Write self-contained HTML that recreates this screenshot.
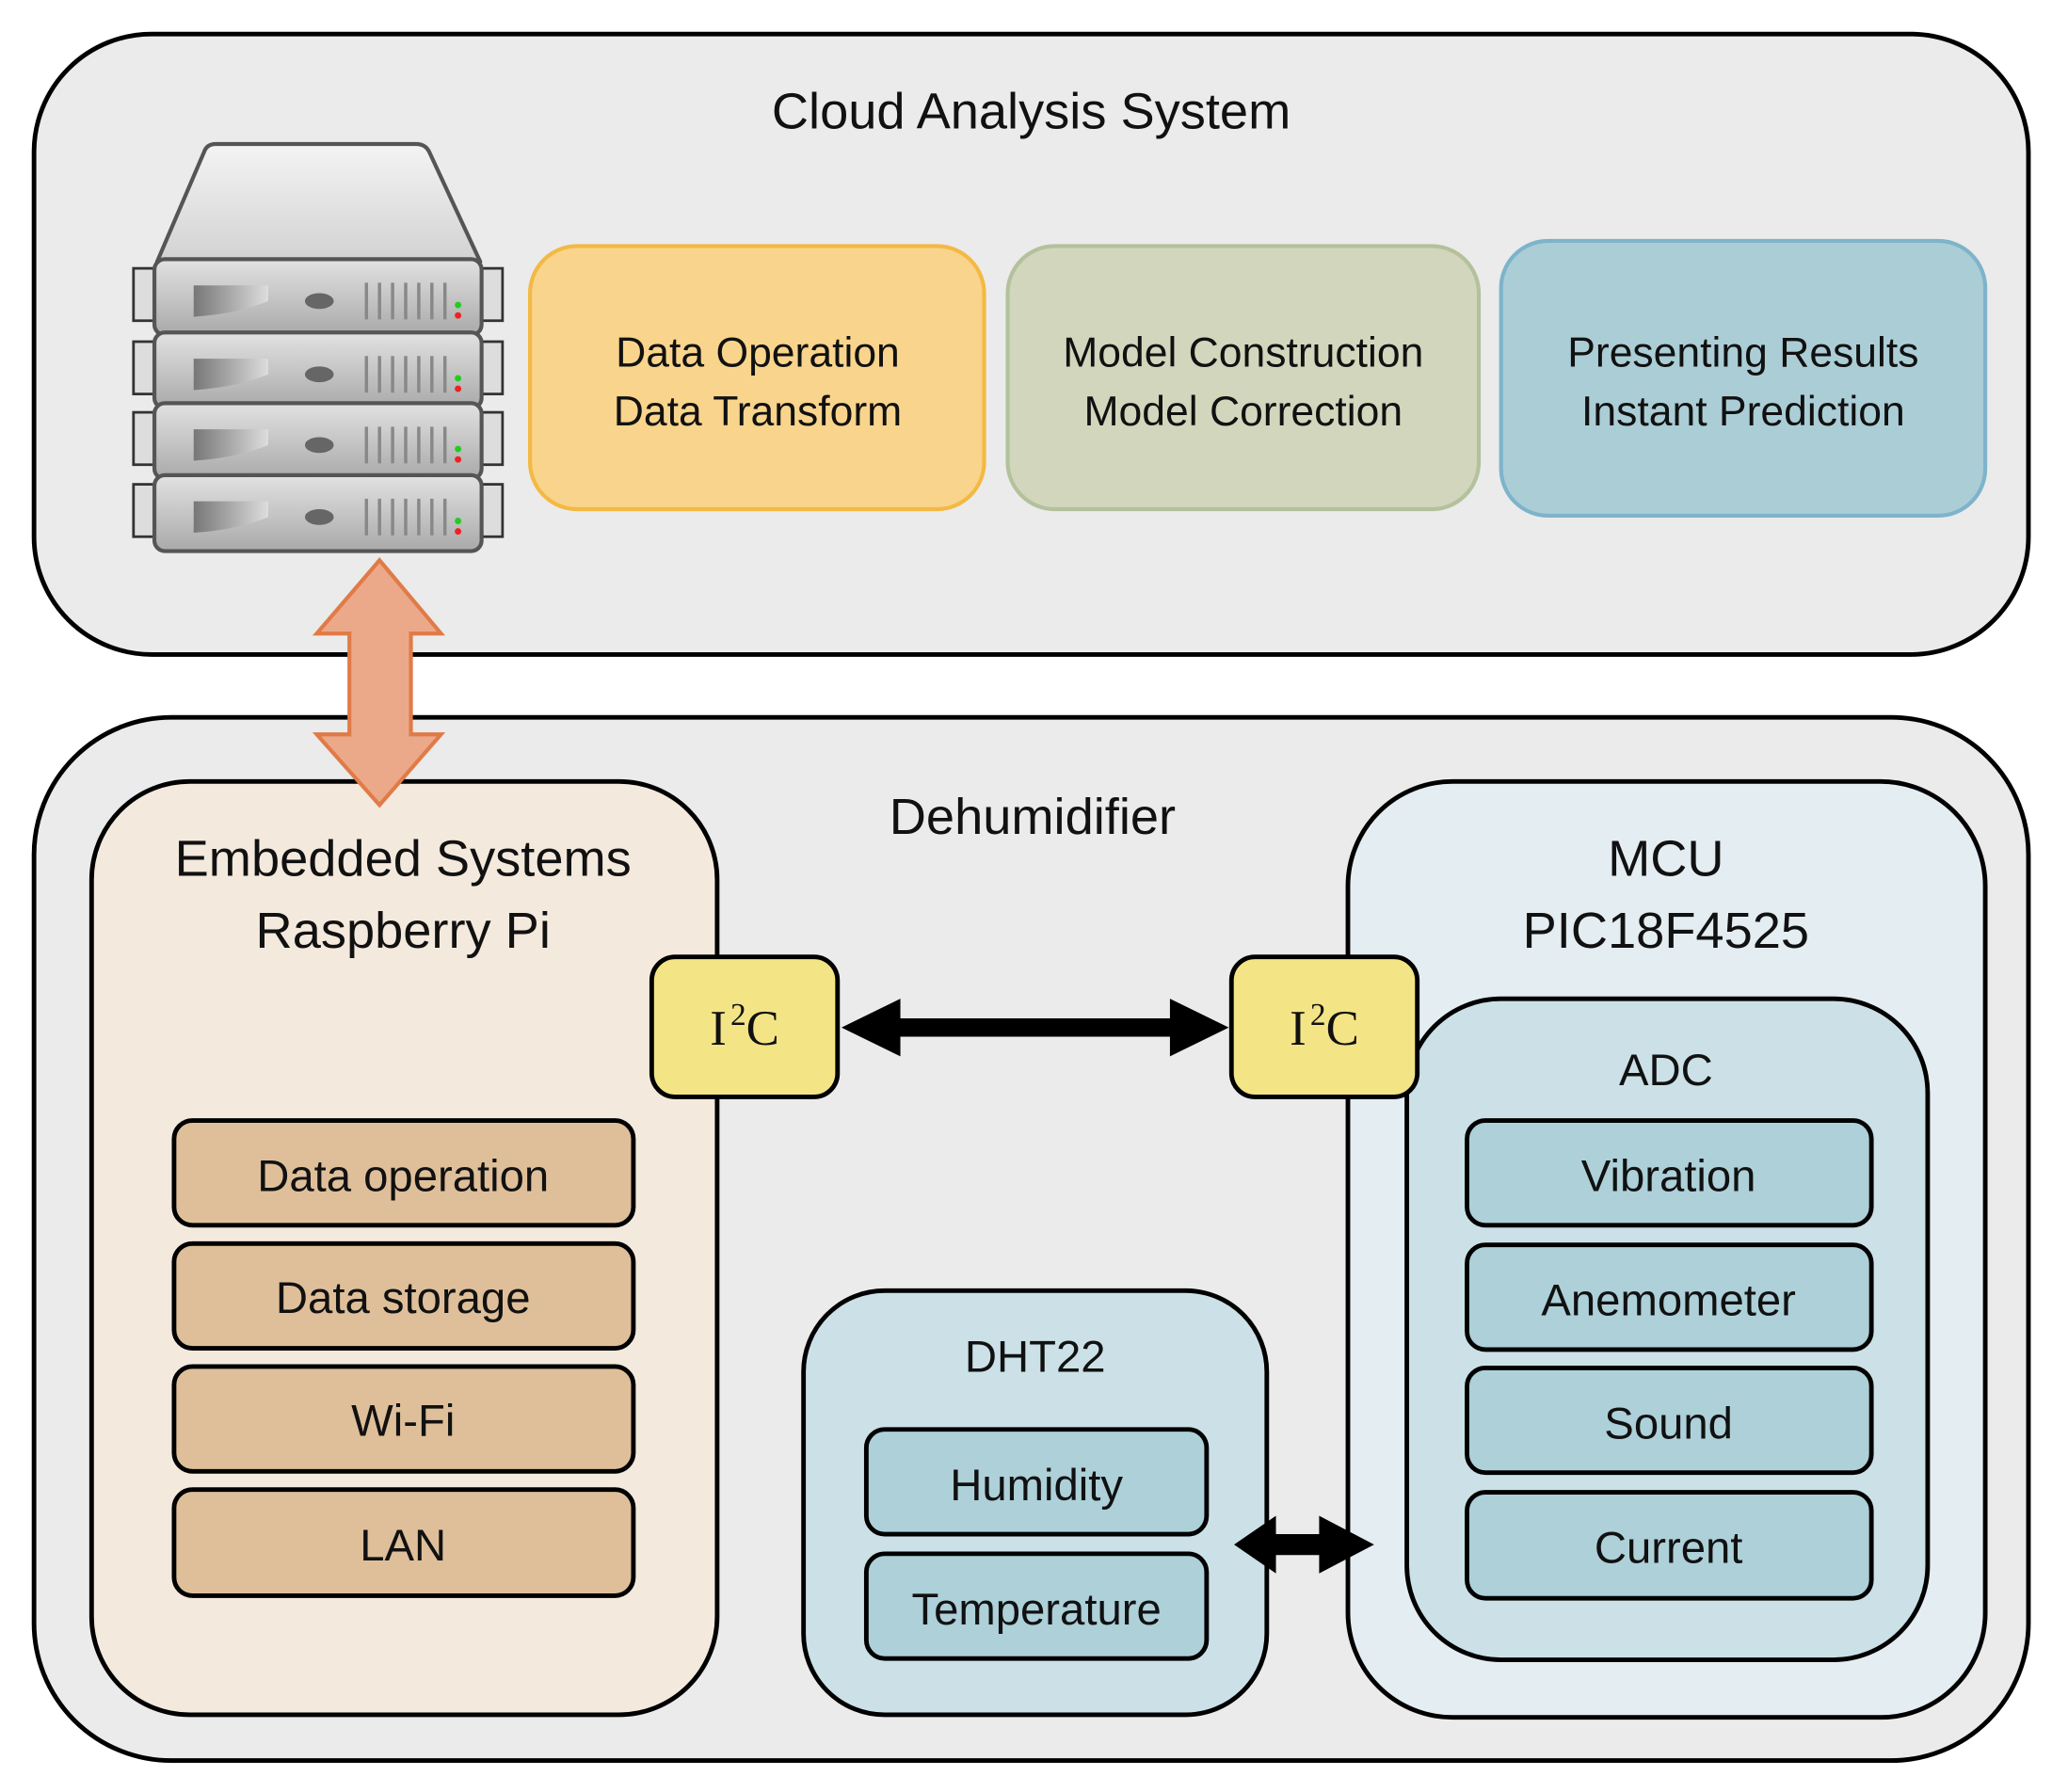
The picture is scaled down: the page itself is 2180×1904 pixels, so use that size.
<!DOCTYPE html>
<html><head><meta charset="utf-8"><style>
html,body{margin:0;padding:0;background:#fff;}
svg{display:block;}
text{font-family:"Liberation Sans",sans-serif;fill:#111;text-anchor:middle;}
</style></head><body>
<svg width="2180" height="1904" viewBox="0 0 1568 1369" preserveAspectRatio="none" xmlns="http://www.w3.org/2000/svg">
<defs>
<linearGradient id="top" x1="0" y1="0" x2="0" y2="1"><stop offset="0" stop-color="#f4f4f4"/><stop offset="1" stop-color="#d2d2d2"/></linearGradient>
<linearGradient id="unit" x1="0" y1="0" x2="0" y2="1"><stop offset="0" stop-color="#e2e2e2"/><stop offset="1" stop-color="#a9a9a9"/></linearGradient>
<linearGradient id="slot" x1="0" y1="0" x2="1" y2="0"><stop offset="0" stop-color="#777"/><stop offset="1" stop-color="#ddd"/></linearGradient>
</defs>
<rect x="26" y="26" width="1524" height="474" rx="90" fill="#ebebeb" stroke="#000" stroke-width="3.5"/>
<text x="788" y="98" font-size="39">Cloud Analysis System</text>

<g>
<path d="M120 200 L156 116 Q158 110 165 110 L318 110 Q325 110 328 116 L367 200 Z" fill="url(#top)" stroke="#555" stroke-width="3" stroke-linejoin="round"/>
<g id="u">
<rect x="102" y="205" width="18" height="40" fill="#ddd" stroke="#333" stroke-width="2"/>
<rect x="366" y="205" width="18" height="40" fill="#ddd" stroke="#333" stroke-width="2"/>
<rect x="118" y="198" width="250" height="58" rx="8" fill="url(#unit)" stroke="#555" stroke-width="3"/>
<path d="M148 218 L205 218 L205 230 Q180 240 148 242 Z" fill="url(#slot)"/>
<ellipse cx="244" cy="230" rx="11" ry="6" fill="#666"/>
<g stroke="#888" stroke-width="2.5"><line x1="280" y1="216" x2="280" y2="244"/><line x1="290" y1="216" x2="290" y2="244"/><line x1="300" y1="216" x2="300" y2="244"/><line x1="310" y1="216" x2="310" y2="244"/><line x1="320" y1="216" x2="320" y2="244"/><line x1="330" y1="216" x2="330" y2="244"/><line x1="340" y1="216" x2="340" y2="244"/></g>
<circle cx="350" cy="233" r="2.5" fill="#2c2"/><circle cx="350" cy="241" r="2.5" fill="#e22"/>
</g>
<use href="#u" y="56"/>
<use href="#u" y="110"/>
<use href="#u" y="165"/>
</g>

<rect x="405" y="188" width="347" height="201" rx="36" fill="#f9d48c" stroke="#f3b944" stroke-width="3"/>
<text x="579" y="280" font-size="32">Data Operation</text>
<text x="579" y="325" font-size="32">Data Transform</text>
<rect x="770" y="188" width="360" height="201" rx="36" fill="#d2d6bc" stroke="#b3c19c" stroke-width="3"/>
<text x="950" y="280" font-size="32">Model Construction</text>
<text x="950" y="325" font-size="32">Model Correction</text>
<rect x="1147" y="184" width="370" height="210" rx="36" fill="#abcdd6" stroke="#7db4ca" stroke-width="3"/>
<text x="1332" y="280" font-size="32">Presenting Results</text>
<text x="1332" y="325" font-size="32">Instant Prediction</text>

<rect x="26" y="548" width="1524" height="797" rx="105" fill="#ebebeb" stroke="#000" stroke-width="3.5"/>
<text x="789" y="637" font-size="39">Dehumidifier</text>

<rect x="70" y="597" width="478" height="713" rx="75" fill="#f4e9dd" stroke="#000" stroke-width="3.5"/>
<text x="308" y="669" font-size="39">Embedded Systems</text>
<text x="308" y="724" font-size="39">Raspberry Pi</text>
<g fill="#dfbf9a" stroke="#000" stroke-width="3.5">
<rect x="133" y="856" width="351" height="80" rx="14"/>
<rect x="133" y="950" width="351" height="80" rx="14"/>
<rect x="133" y="1044" width="351" height="80" rx="14"/>
<rect x="133" y="1138" width="351" height="81" rx="14"/>
</g>
<text x="308" y="910" font-size="34">Data operation</text>
<text x="308" y="1003" font-size="34">Data storage</text>
<text x="308" y="1097" font-size="34">Wi-Fi</text>
<text x="308" y="1192" font-size="34">LAN</text>

<rect x="1030" y="597" width="487" height="715" rx="80" fill="#e4edf2" stroke="#000" stroke-width="3.5"/>
<text x="1273" y="669" font-size="39">MCU</text>
<text x="1273" y="724" font-size="39">PIC18F4525</text>
<rect x="1075" y="763" width="398" height="505" rx="72" fill="#cbe1e7" stroke="#000" stroke-width="3.5"/>
<text x="1273" y="829" font-size="34">ADC</text>
<g fill="#add0d9" stroke="#000" stroke-width="3.5">
<rect x="1121" y="856" width="309" height="80" rx="14"/>
<rect x="1121" y="951" width="309" height="80" rx="14"/>
<rect x="1121" y="1045" width="309" height="80" rx="14"/>
<rect x="1121" y="1140" width="309" height="81" rx="14"/>
</g>
<text x="1275" y="910" font-size="34">Vibration</text>
<text x="1275" y="1005" font-size="34">Anemometer</text>
<text x="1275" y="1099" font-size="34">Sound</text>
<text x="1275" y="1194" font-size="34">Current</text>

<rect x="614" y="986" width="354" height="324" rx="62" fill="#cbe1e7" stroke="#000" stroke-width="3.5"/>
<text x="791" y="1048" font-size="34">DHT22</text>
<g fill="#add0d9" stroke="#000" stroke-width="3.5">
<rect x="662" y="1092" width="260" height="80" rx="14"/>
<rect x="662" y="1187" width="260" height="80" rx="14"/>
</g>
<text x="792" y="1146" font-size="34">Humidity</text>
<text x="792" y="1241" font-size="34">Temperature</text>
<polygon points="943,1180 975,1158 975,1172 1008,1172 1008,1158 1050,1180 1008,1202 1008,1188 975,1188 975,1202" fill="#000"/>

<g fill="#f3e486" stroke="#000" stroke-width="3.5">
<rect x="498" y="731" width="142" height="107" rx="18"/>
<rect x="941" y="731" width="142" height="107" rx="18"/>
</g>
<text x="569" y="798" font-size="38" style="font-family:'Liberation Serif',serif">I<tspan font-size="24" dx="3" dy="-15">2</tspan><tspan dy="15">C</tspan></text>
<text x="1012" y="798" font-size="38" style="font-family:'Liberation Serif',serif">I<tspan font-size="24" dx="3" dy="-15">2</tspan><tspan dy="15">C</tspan></text>
<polygon points="643,785 688,763 688,778 894,778 894,763 939,785 894,807 894,792 688,792 688,807" fill="#000"/>

<polygon points="290,428 337,484 314,484 314,561 337,561 290,615 242,561 267,561 267,484 242,484" fill="#eba98a" stroke="#e07b48" stroke-width="3" stroke-linejoin="miter"/>
</svg>
</body></html>
